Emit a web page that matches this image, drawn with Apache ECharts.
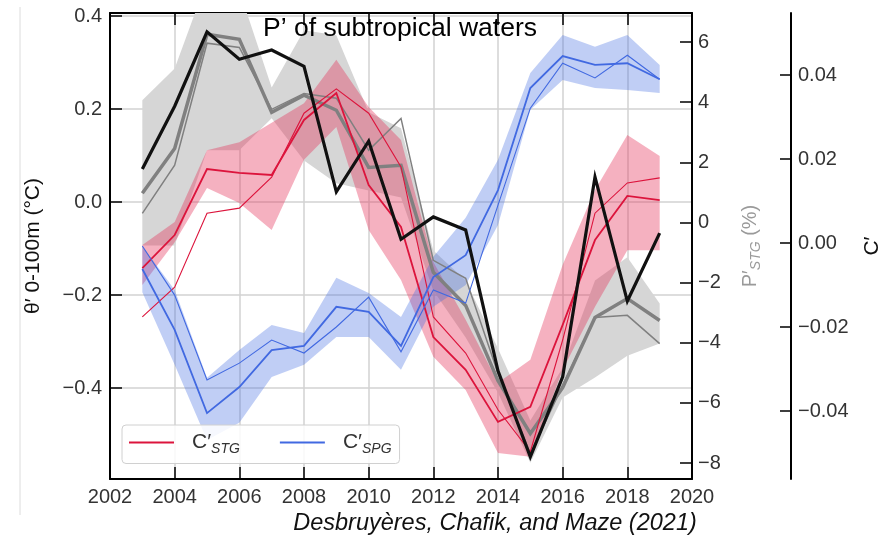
<!DOCTYPE html>
<html><head><meta charset="utf-8">
<script src="https://cdn.jsdelivr.net/npm/echarts@6/dist/echarts.min.js"></script>
<style>html,body{margin:0;padding:0;background:#fff}#c{width:895px;height:540px}</style>
</head><body><div id="c"></div>
<script>
// ---- data ----
const years = [2003,2004,2005,2006,2007,2008,2009,2010,2011,2012,2013,2014,2015,2016,2017,2018,2019];
// theta' 0-100m (left axis, black)
const thetaBlack = [0.071,0.206,0.366,0.307,0.327,0.292,0.022,0.131,-0.080,-0.032,-0.060,-0.363,-0.548,-0.376,0.054,-0.213,-0.067];
// P'_STG (%) (grey, middle-right axis)
const pThick = [0.97,2.46,6.26,6.09,3.66,4.23,3.73,1.83,1.90,-1.66,-2.76,-5.26,-7.02,-5.49,-3.16,-2.53,-3.26];
const pThin  = [0.30,1.90,5.96,5.82,3.76,4.29,4.13,2.40,3.46,-1.26,-1.86,-5.02,-7.69,-5.42,-3.16,-3.09,-4.03];
const pUpper = [4.06,5.12,8.05,7.72,4.49,6.39,6.22,3.66,3.13,-0.93,-1.93,-4.19,-6.59,-4.83,-1.93,-1.16,-2.70];
const pLower = [-0.77,-0.77,2.40,2.40,3.46,2.06,1.30,1.06,0.83,-2.26,-3.83,-5.66,-7.99,-5.82,-5.16,-4.43,-4.03];
// C'_STG (red, far-right axis)
const stgThick = [-0.0060,0.0019,0.0176,0.0167,0.0162,0.0293,0.0357,0.0138,0.0038,-0.0224,-0.0302,-0.0426,-0.0390,-0.0195,0.0007,0.0112,0.0102];
const stgThin  = [-0.0176,-0.0105,0.0071,0.0083,0.0157,0.0309,0.0367,0.0309,0.0181,-0.0176,-0.0262,-0.0397,-0.0497,-0.0231,0.0071,0.0143,0.0155];
const stgUpper = [-0.0005,0.0050,0.0221,0.0240,0.0286,0.0333,0.0436,0.0324,0.0245,-0.0045,-0.0183,-0.0333,-0.0278,-0.0052,0.0126,0.0257,0.0207];
const stgLower = [-0.0100,0.0002,0.0131,0.0095,0.0031,0.0198,0.0276,0.0031,-0.0088,-0.0271,-0.0350,-0.0500,-0.0509,-0.0302,-0.0152,-0.0017,-0.0017];
// C'_SPG (blue, far-right axis)
const spgThick = [-0.0062,-0.0207,-0.0405,-0.0343,-0.0255,-0.0245,-0.0152,-0.0164,-0.0245,-0.0081,-0.0029,0.0126,0.0369,0.0445,0.0424,0.0428,0.0390];
const spgThin  = [-0.0007,-0.0124,-0.0326,-0.0286,-0.0231,-0.0262,-0.0200,-0.0129,-0.0259,-0.0112,-0.0143,0.0090,0.0321,0.0428,0.0393,0.0447,0.0390];
const spgUpper = [-0.0007,-0.0112,-0.0321,-0.0255,-0.0195,-0.0214,-0.0083,-0.0119,-0.0176,-0.0033,0.0060,0.0198,0.0405,0.0495,0.0467,0.0495,0.0424];
const spgLower = [-0.0117,-0.0290,-0.0469,-0.0428,-0.0319,-0.0290,-0.0224,-0.0224,-0.0302,-0.0152,-0.0100,0.0043,0.0317,0.0388,0.0369,0.0364,0.0357];
// tick labels
const xTicks = [2002,2004,2006,2008,2010,2012,2014,2016,2018,2020];
const leftTicks = [-0.4,-0.2,0,0.2,0.4];
const pTicks = [-8,-6,-4,-2,0,2,4,6];
const cTicks = [-0.04,-0.02,0,0.02,0.04];
const legendNames = ['C_STG','C_SPG'];
const titleText = 'P’ of subtropical waters';
const citeText = 'Desbruyères, Chafik, and Maze (2021)';

// ---- chart ----
const FONT = '"Liberation Sans", Arial, Helvetica, sans-serif';
const chart = echarts.init(document.getElementById('c'), null, {renderer:'canvas'});
const pair = arr => years.map((y,i)=>[y, arr[i]]);
const minus = s => s.replace('-', '\u2212');
function band(lower, upper, yIdx, color){
  return {type:'custom', yAxisIndex:yIdx, clip:true, silent:true, z:1,
    data: years.map((y,i)=>[y, lower[i], upper[i]]),
    encode:{x:0, y:[1,2]},
    renderItem:(params, api)=>{
      if (params.dataIndex !== 0) return null;
      const pts = [];
      for (let i=0;i<years.length;i++) pts.push(api.coord([years[i], upper[i]]));
      for (let i=years.length-1;i>=0;i--) pts.push(api.coord([years[i], lower[i]]));
      const cs = params.coordSys;
      return {type:'group',
        clipPath:{type:'rect', shape:{x:cs.x, y:cs.y, width:cs.width, height:cs.height}},
        children:[{type:'polygon', shape:{points:pts}, style:{fill:color}}]};
    }};
}
function line(name, arr, yIdx, color, width){
  return {name, type:'line', yAxisIndex:yIdx, data:pair(arr), symbol:'none',
    lineStyle:{color, width, join:'miter'}, itemStyle:{color}, silent:true, z:2};
}
const RED = 'rgb(220,20,60)', BLUE = 'rgb(65,105,225)', GREY = 'rgb(128,128,128)';
const axisLineStyle = {color:'#000', width:2};
const labelStyle = {fontSize:20, color:'#333', fontFamily:FONT};
const gridLine = {show:true, lineStyle:{color:'#d2d2d2', width:1.5}};

const option = {
  animation:false,
  backgroundColor:'#fff',
  grid:{left:110, right:203, top:13, bottom:61, containLabel:false},
  xAxis:[
    {type:'value', min:2002, max:2020, interval:2, position:'bottom',
     axisLine:{show:true, onZero:false, lineStyle:axisLineStyle},
     axisTick:{show:true, inside:true, length:12, lineStyle:{color:'#000', width:1.5}},
     axisLabel:Object.assign({margin:8, customValues:xTicks, formatter:v=>String(v)}, labelStyle),
     splitLine:gridLine},
    {type:'value', min:2002, max:2020, interval:2, position:'top',
     axisLine:{show:true, onZero:false, lineStyle:axisLineStyle},
     axisTick:{show:true, inside:true, length:12, lineStyle:{color:'#000', width:1.5}},
     axisLabel:{show:false}, splitLine:{show:false}}
  ],
  yAxis:[
    {type:'value', min:-0.5957, max:0.4065, position:'left',
     name:'θ′ 0-100m (°C)', nameLocation:'middle', nameRotate:90, nameGap:66,
     nameTextStyle:{fontSize:21, color:'#111', fontFamily:FONT},
     axisLine:{show:true, onZero:false, lineStyle:axisLineStyle},
     axisTick:{show:true, inside:true, length:12, customValues:leftTicks, lineStyle:{color:'#000', width:1.5}},
     axisLabel:Object.assign({margin:8, customValues:leftTicks, formatter:v=>minus(v.toFixed(1))}, labelStyle),
     splitLine:gridLine},
    {type:'value', min:-8.532, max:6.964, position:'right', offset:0,
     name:'{p|P′}{s|STG}{p| (%)}', nameLocation:'middle', nameRotate:90, nameGap:45,
     nameTextStyle:{color:'#9a9a9a', fontFamily:FONT,
       rich:{p:{fontSize:20, color:'#9a9a9a', fontFamily:FONT, lineHeight:26, verticalAlign:'middle'},
             s:{fontSize:14, color:'#9a9a9a', fontStyle:'italic', fontFamily:FONT, lineHeight:26, verticalAlign:'bottom'}}},
     axisLine:{show:true, onZero:false, lineStyle:axisLineStyle},
     axisTick:{show:true, inside:true, length:12, customValues:pTicks, lineStyle:{color:'#000', width:1.5}},
     axisLabel:Object.assign({margin:6, customValues:pTicks, formatter:v=>minus(String(v))}, labelStyle),
     splitLine:{show:false}},
    {type:'value', min:-0.05619, max:0.05476, position:'right', offset:99,
     name:'C′', nameLocation:'middle', nameRotate:90, nameGap:71,
     nameTextStyle:{fontSize:21, color:'#111', fontFamily:FONT},
     axisLine:{show:true, onZero:false, lineStyle:axisLineStyle},
     axisTick:{show:true, inside:true, length:11, customValues:cTicks, lineStyle:{color:'#000', width:1.5}},
     axisLabel:Object.assign({margin:7, customValues:cTicks, formatter:v=>minus(v.toFixed(2))}, labelStyle),
     splitLine:{show:false}}
  ],
  legend:{
    data:legendNames, left:122, top:425, orient:'horizontal',
    icon:'rect', itemWidth:45, itemHeight:2, itemGap:40,
    padding:[7,8,7,7], backgroundColor:'rgba(255,255,255,0.85)',
    borderColor:'#d0d0d0', borderWidth:1, borderRadius:4,
    formatter:n => n==='C_STG' ? '{m|C′}{s|STG}' : '{m|C′}{s|SPG}',
    textStyle:{fontFamily:FONT, color:'#333',
      rich:{m:{fontSize:21, color:'#333', fontFamily:FONT, lineHeight:28, verticalAlign:'middle', padding:[0,0,0,13]},
            s:{fontSize:14, color:'#333', fontStyle:'italic', fontFamily:FONT, lineHeight:28, verticalAlign:'bottom'}}}
  },
  graphic:[
    {type:'line', shape:{x1:20, y1:7, x2:20, y2:515}, style:{stroke:'#dcdcdc', lineWidth:1}, silent:true},
    {type:'text', x:400, y:29, style:{text:titleText, fontSize:26.5, fontFamily:FONT, fill:'#000', textAlign:'center', textVerticalAlign:'middle'}, z:100},
    {type:'text', x:495, y:523, style:{text:citeText, fontSize:23.5, fontStyle:'italic', fontFamily:FONT, fill:'#111', textAlign:'center', textVerticalAlign:'middle'}}
  ],
  series:[
    band(pLower, pUpper, 1, 'rgb(214,214,214)'),
    band(stgLower, stgUpper, 2, 'rgba(228,50,90,0.38)'),
    band(spgLower, spgUpper, 2, 'rgba(65,105,225,0.33)'),
    line('P_thin', pThin, 1, GREY, 1.5),
    line('P_thick', pThick, 1, GREY, 3.5),
    line('C_STG_thin', stgThin, 2, RED, 1.1),
    line('C_STG', stgThick, 2, RED, 1.8),
    line('C_SPG_thin', spgThin, 2, BLUE, 1.1),
    line('C_SPG', spgThick, 2, BLUE, 1.8),
    line('theta', thetaBlack, 0, '#111', 3.2)
  ]
};
chart.setOption(option);
</script>
</body></html>
